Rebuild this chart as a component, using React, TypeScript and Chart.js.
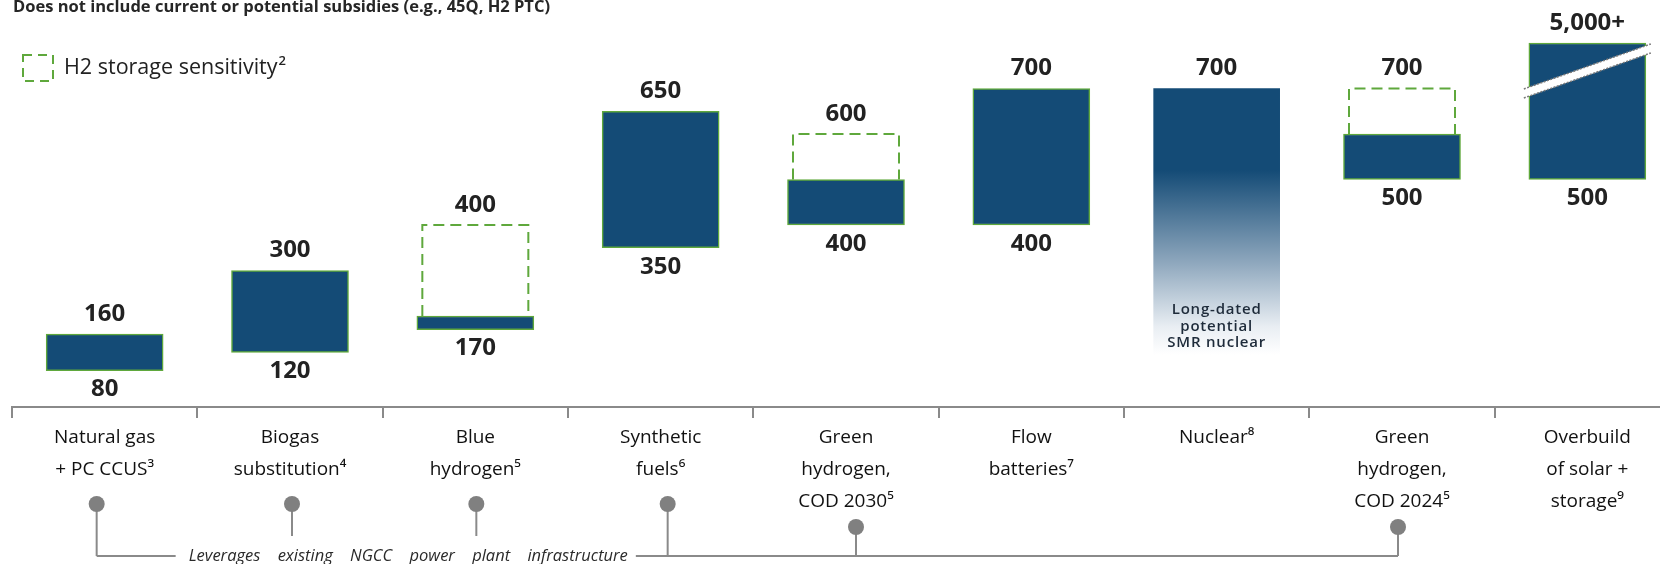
import React, { useEffect, useRef } from "react";
import { Chart, registerables } from "chart.js";

Chart.register(...registerables);

// ---------- DATA ----------
const categories: string[][] = [
  ["Natural gas", "+ PC CCUS³"],
  ["Biogas", "substitution⁴"],
  ["Blue", "hydrogen⁵"],
  ["Synthetic", "fuels⁶"],
  ["Green", "hydrogen,", "COD 2030⁵"],
  ["Flow", "batteries⁷"],
  ["Nuclear⁸"],
  ["Green", "hydrogen,", "COD 2024⁵"],
  ["Overbuild", "of solar +", "storage⁹"],
];
// base range of each bar (overbuild drawn capped at 800 with an axis break; true value 5,000+)
const rangeLow: (number | null)[] = [80, 120, 170, 350, 400, 400, null, 500, 500];
const rangeHigh: (number | null)[] = [160, 300, 200, 650, 500, 700, null, 600, 800];
// H2 storage sensitivity (dashed boxes)
const h2SensitivityHigh: (number | null)[] = [null, null, 400, null, 600, null, null, 700, null];
// long-dated SMR nuclear (fading bar)
const nuclearLow = 115;
const nuclearHigh = 700;
const nuclearSolidTo = 520;
// printed labels
const topLabels = ["160", "300", "400", "650", "600", "700", "700", "700", "5,000+"];
const bottomLabels = ["80", "120", "170", "350", "400", "400", "", "500", "500"];
const titleText = "Does not include current or potential subsidies (e.g., 45Q, H2 PTC)";
const legendText = "H2 storage sensitivity";
const noteText = "Leverages existing NGCC power plant infrastructure";
const nuclearNote = ["Long-dated", "potential", "SMR nuclear"];
const connectedIdx = [0, 1, 2, 3, 4, 7];

// ---------- STYLE ----------
const NAVY = "#144b76";
const GREEN = "#5fa83c";
const GRAY = "#8a8a8a";
const FONT = "'Open Sans', 'Liberation Sans', sans-serif";
const markerShift: Record<number, number> = { 0: -8, 1: 2, 2: 1, 3: 7, 4: 10, 7: -4 };

const overlayPlugin = {
  id: "overlay",
  afterDatasetsDraw(chart: any) {
    const ctx: CanvasRenderingContext2D = chart.ctx;
    const main = chart.getDatasetMeta(0);
    const sens = chart.getDatasetMeta(1);
    const nuc = chart.getDatasetMeta(2);
    const xs = chart.scales.x;
    const area = chart.chartArea;

    // dashed sensitivity boxes
    ctx.save();
    ctx.strokeStyle = GREEN;
    ctx.lineWidth = 2;
    ctx.setLineDash([11, 6]);
    sens.data.forEach((el: any, i: number) => {
      if (h2SensitivityHigh[i] == null || !el) return;
      const l = el.x - el.width / 2;
      const r = el.x + el.width / 2;
      const top = Math.min(el.y, el.base);
      const bot = Math.max(el.y, el.base);
      ctx.beginPath();
      ctx.moveTo(l, bot);
      ctx.lineTo(l, top);
      ctx.lineTo(r, top);
      ctx.lineTo(r, bot);
      ctx.stroke();
    });
    ctx.restore();

    // axis break on overbuild bar
    const ob = main.data[8];
    if (ob) {
      const top = Math.min(ob.y, ob.base);
      const l = ob.x - ob.width / 2 - 5;
      const r = ob.x + ob.width / 2 + 5;
      ctx.save();
      ctx.fillStyle = "#ffffff";
      ctx.beginPath();
      ctx.moveTo(l, top + 46);
      ctx.lineTo(r, top + 1);
      ctx.lineTo(r, top + 10);
      ctx.lineTo(l, top + 55);
      ctx.closePath();
      ctx.fill();
      ctx.strokeStyle = "#7a7a7a";
      ctx.lineWidth = 1.5;
      ctx.setLineDash([2, 1.5]);
      ctx.beginPath();
      ctx.moveTo(l, top + 46);
      ctx.lineTo(r, top + 1);
      ctx.moveTo(l, top + 55);
      ctx.lineTo(r, top + 10);
      ctx.stroke();
      ctx.restore();
    }

    // value labels
    ctx.save();
    ctx.fillStyle = "#222222";
    ctx.font = `bold 24px ${FONT}`;
    ctx.textAlign = "center";
    ctx.textBaseline = "middle";
    for (let i = 0; i < categories.length; i++) {
      const x = xs.getPixelForValue(i);
      let topY: number | null = null;
      const s = sens.data[i];
      const n = nuc.data[i];
      const m = main.data[i];
      if (h2SensitivityHigh[i] != null && s) topY = Math.min(s.y, s.base);
      else if (rangeHigh[i] != null && m) topY = Math.min(m.y, m.base);
      else if (n) topY = Math.min(n.y, n.base);
      if (topY != null) ctx.fillText(topLabels[i], x, topY - 20);
      if (bottomLabels[i] && m && rangeLow[i] != null) {
        ctx.fillText(bottomLabels[i], x, Math.max(m.y, m.base) + 19);
      }
    }
    ctx.restore();

    // nuclear note
    const nx = xs.getPixelForValue(6);
    ctx.save();
    ctx.fillStyle = "#1e2b3a";
    ctx.font = `600 15px ${FONT}`;
    (ctx as any).letterSpacing = "0.8px";
    ctx.textAlign = "center";
    ctx.textBaseline = "middle";
    nuclearNote.forEach((t, k) => ctx.fillText(t, nx, area.bottom - 97 + k * 16.5));
    ctx.restore();
  },
  afterDraw(chart: any) {
    const ctx: CanvasRenderingContext2D = chart.ctx;
    const xs = chart.scales.x;
    const area = chart.chartArea;

    // title
    ctx.save();
    ctx.fillStyle = "#262626";
    ctx.font = `bold 16.5px ${FONT}`;
    ctx.textAlign = "left";
    ctx.textBaseline = "alphabetic";
    ctx.fillText(titleText, 13, 12);
    ctx.restore();

    // legend
    ctx.save();
    ctx.strokeStyle = GREEN;
    ctx.lineWidth = 2;
    ctx.setLineDash([9, 6]);
    ctx.strokeRect(23, 55, 30, 26);
    ctx.setLineDash([]);
    ctx.fillStyle = "#222222";
    ctx.font = `21.5px ${FONT}`;
    ctx.textBaseline = "middle";
    ctx.textAlign = "left";
    ctx.fillText(legendText, 64, 68);
    const w = ctx.measureText(legendText).width;
    ctx.font = `600 13px ${FONT}`;
    ctx.fillText("2", 64 + w + 1, 61);
    ctx.restore();

    // connectors
    const circleY = area.bottom + 97;
    const lineY = area.bottom + 149;
    const shortY = area.bottom + 129;
    const lowCircleY = area.bottom + 120;
    const cx = (i: number) => xs.getPixelForValue(i) + (markerShift[i] || 0);
    ctx.save();
    ctx.strokeStyle = GRAY;
    ctx.fillStyle = "#808080";
    ctx.lineWidth = 2;
    connectedIdx.forEach((i) => {
      const x = cx(i);
      const cy = i === 4 || i === 7 ? lowCircleY : circleY;
      ctx.beginPath();
      ctx.moveTo(x, cy);
      ctx.lineTo(x, i === 1 || i === 2 ? shortY : lineY);
      ctx.stroke();
      ctx.beginPath();
      ctx.arc(x, cy, 8, 0, Math.PI * 2);
      ctx.fill();
    });
    ctx.font = `italic 16.5px ${FONT}`;
    (ctx as any).wordSpacing = "13px";
    ctx.fillStyle = "#2a2a2a";
    ctx.textAlign = "left";
    ctx.textBaseline = "middle";
    const tLeft = cx(0) + 92;
    const tw = ctx.measureText(noteText).width;
    ctx.fillText(noteText, tLeft, lineY);
    ctx.beginPath();
    ctx.moveTo(cx(0), lineY);
    ctx.lineTo(tLeft - 13, lineY);
    ctx.moveTo(tLeft + tw + 8, lineY);
    ctx.lineTo(cx(7), lineY);
    ctx.stroke();
    ctx.restore();
  },
};

export default function App() {
  const ref = useRef<HTMLCanvasElement>(null);

  useEffect(() => {
    document.body.style.margin = "0";
    const canvas = ref.current!;
    const mainData = categories.map((_, i) =>
      rangeLow[i] != null && rangeHigh[i] != null ? [rangeLow[i], rangeHigh[i]] : null
    );
    const sensData = categories.map((_, i) =>
      h2SensitivityHigh[i] != null ? [rangeHigh[i], h2SensitivityHigh[i]] : null
    );
    const nucData = categories.map((c, i) => (i === 6 ? [nuclearLow, nuclearHigh] : null));

    const chart = new Chart(canvas, {
      type: "bar",
      data: {
        labels: categories as any,
        datasets: [
          {
            label: "Range",
            data: mainData as any,
            backgroundColor: NAVY,
            borderColor: GREEN,
            borderWidth: 1.5,
            borderSkipped: false,
            barThickness: 117,
            grouped: false,
            order: 2,
          } as any,
          {
            label: "H2 storage sensitivity",
            data: sensData as any,
            backgroundColor: "rgba(0,0,0,0)",
            borderWidth: 0,
            barThickness: 106,
            grouped: false,
            order: 1,
          } as any,
          {
            label: "Nuclear",
            data: nucData as any,
            backgroundColor: (c: any) => {
              const ch = c.chart;
              if (!ch.chartArea) return NAVY;
              const y = ch.scales.y;
              const g = ch.ctx.createLinearGradient(
                0,
                y.getPixelForValue(nuclearSolidTo),
                0,
                y.getPixelForValue(nuclearLow)
              );
              g.addColorStop(0, NAVY);
              g.addColorStop(0.5, "#8ea7bd");
              g.addColorStop(0.85, "#e9eef3");
              g.addColorStop(1, "#ffffff");
              return g;
            },
            borderWidth: 0,
            barThickness: 126,
            grouped: false,
            order: 3,
          } as any,
        ],
      },
      options: {
        responsive: false,
        animation: false,
        events: [],
        layout: { padding: { left: 12, right: 20, top: 2, bottom: 42 } },
        plugins: {
          legend: { display: false },
          tooltip: { enabled: false },
          title: { display: false },
        },
        scales: {
          x: {
            offset: true,
            grid: {
              offset: true,
              drawOnChartArea: false,
              drawTicks: true,
              tickLength: 11,
              color: GRAY,
              lineWidth: 2,
            },
            border: { display: true, color: GRAY, width: 2 },
            ticks: {
              autoSkip: false,
              maxRotation: 0,
              minRotation: 0,
              padding: 4,
              color: "#111111",
              font: { family: FONT, size: 19, lineHeight: "32px" } as any,
            },
          },
          y: {
            display: false,
            min: 0,
            max: 890,
          },
        },
      },
      plugins: [overlayPlugin],
    });
    return () => chart.destroy();
  }, []);

  return (
    <div style={{ width: 1660, height: 564, overflow: "hidden", background: "#ffffff" }}>
      <canvas ref={ref} width={1700} height={564} style={{ display: "block" }} />
    </div>
  );
}
